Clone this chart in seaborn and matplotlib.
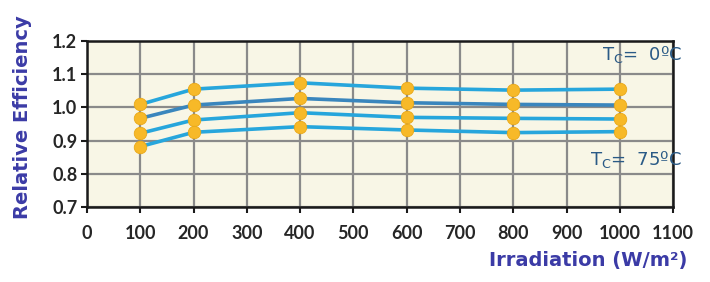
import matplotlib
matplotlib.use("Agg")
import matplotlib.pyplot as plt
import seaborn as sns
import pandas as pd

# irradiation levels (W/m2)
irradiation = [100, 200, 400, 600, 800, 1000]

# relative efficiency per cell temperature
eff_0c = [1.009, 1.055, 1.074, 1.058, 1.052, 1.055]
eff_25c = [0.967, 1.007, 1.027, 1.014, 1.009, 1.007]
eff_50c = [0.922, 0.962, 0.984, 0.970, 0.967, 0.965]
eff_75c = [0.882, 0.925, 0.942, 0.932, 0.924, 0.927]

temps = ["0", "25", "50", "75"]
series = [eff_0c, eff_25c, eff_50c, eff_75c]

rows = []
for t, vals in zip(temps, series):
    for x, y in zip(irradiation, vals):
        rows.append({"Irradiation": x, "Efficiency": y, "Tc": t})
df = pd.DataFrame(rows)

sns.set_style("whitegrid", {"axes.facecolor": "#f8f6e6",
                            "grid.color": "#8a8a8a",
                            "axes.edgecolor": "#1a1a1a"})
plt.rcParams["font.family"] = ["Lato", "DejaVu Sans"]

fig = plt.figure(figsize=(7.1, 2.82), dpi=100)
ax = fig.add_axes([0.1225, 0.266, 0.8255, 0.5886])

palette = {"0": "#27a6dc", "25": "#3a86bd", "50": "#27a6dc", "75": "#27a6dc"}
sns.lineplot(data=df, x="Irradiation", y="Efficiency", hue="Tc", palette=palette,
             linewidth=2.6, marker="o", markersize=9, markerfacecolor="#f7b928",
             markeredgecolor="#e9a818", markeredgewidth=0.6, legend=False, ax=ax)

ax.set_xlim(0, 1100)
ax.set_ylim(0.7, 1.2)
ax.set_xticks(range(0, 1101, 100))
ax.set_yticks([0.7, 0.8, 0.9, 1.0, 1.1, 1.2])
ax.set_yticklabels(["0.7", "0.8", "0.9", "1.0", "1.1", "1.2"])
ax.grid(True, linewidth=1.6)
for s in ax.spines.values():
    s.set_linewidth(1.8)
    s.set_visible(True)
ax.tick_params(axis="both", labelsize=13, colors="#1a1a1a", length=4, width=1.5,
               direction="out", bottom=True, left=True, pad=3)
ax.tick_params(axis="x", pad=9)
for lbl in ax.get_xticklabels() + ax.get_yticklabels():
    lbl.set_fontweight("bold")
    lbl.set_color("#262626")

ax.set_xlabel("")
ax.set_ylabel("")
fig.text(0.032, 0.585, "Relative Efficiency", rotation=90, ha="center", va="center",
         fontsize=14, color="#3b3ba6", family="DejaVu Sans", fontweight="bold")
fig.text(0.968, 0.076, "Irradiation (W/m²)", ha="right", va="center",
         fontsize=14, color="#3b3ba6", family="DejaVu Sans", fontweight="bold")

ax.text(1117, 1.16, r"T$_{\mathregular{C}}$=  0ºC", ha="right", va="center",
        fontsize=13, color="#2a5a86", family="DejaVu Sans")
ax.text(1117, 0.842, r"T$_{\mathregular{C}}$=  75ºC", ha="right", va="center",
        fontsize=13, color="#2a5a86", family="DejaVu Sans")

fig.savefig("out.png", dpi=100)
